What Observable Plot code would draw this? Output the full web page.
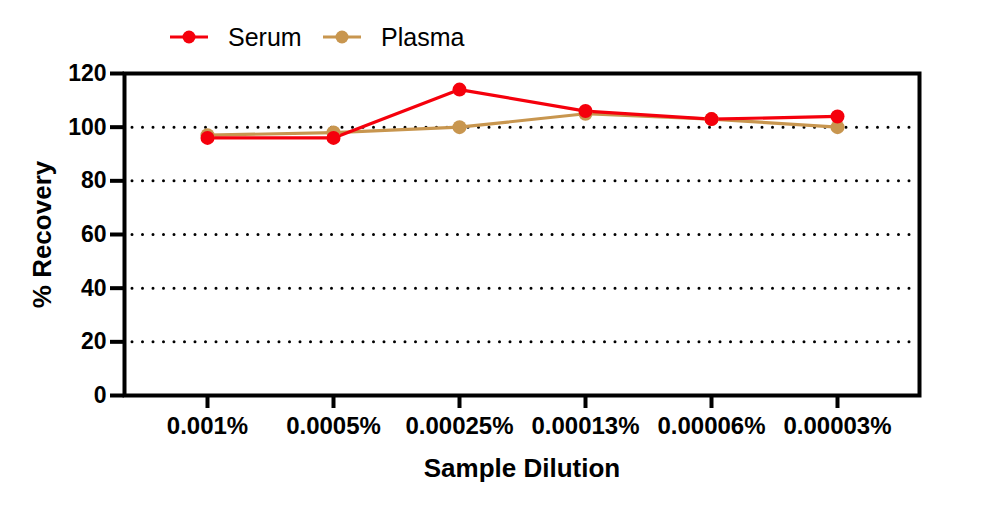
<!DOCTYPE html>
<html>
<head>
<meta charset="utf-8">
<script src="https://cdn.jsdelivr.net/npm/d3@7"></script>
<script src="https://cdn.jsdelivr.net/npm/@observablehq/plot@0.6"></script>
<style>
  html, body { margin: 0; padding: 0; background: #fff; }
  body { width: 996px; height: 507px; overflow: hidden; font-family: "Liberation Sans", Arial, sans-serif; }
  #legend { height: 60px; position: relative; }
  .item { position: absolute; top: 0; height: 74px; display: flex; align-items: center; font-size: 25px; color: #000; }
  .item svg { margin-right: 20px; }
  g[aria-label="x-axis label"] text, g[aria-label="y-axis label"] text { font-size: 26px; font-weight: bold; }
</style>
</head>
<body>
<div id="legend"></div>
<div id="chart"></div>
<script>
const dilutions = ["0.001%", "0.0005%", "0.00025%", "0.00013%", "0.00006%", "0.00003%"];
const serum = [96, 96, 114, 106, 103, 104];
const plasma = [97, 98, 100, 105, 103, 100];
const seriesNames = ["Serum", "Plasma"];
const seriesColors = ["#f5000c", "#c8964f"];
const yTicks = [0, 20, 40, 60, 80, 100, 120];
const gridValues = [20, 40, 60, 80, 100];

const rows = [];
dilutions.forEach((d, i) => {
  rows.push({dilution: d, value: plasma[i], series: "Plasma"});
});
dilutions.forEach((d, i) => {
  rows.push({dilution: d, value: serum[i], series: "Serum"});
});

// Legend
const legend = document.getElementById("legend");
const legendLeft = [170, 323];
seriesNames.forEach((name, i) => {
  const div = document.createElement("div");
  div.className = "item";
  div.style.left = legendLeft[i] + "px";
  div.innerHTML = `<svg width="38" height="16"><line x1="0" y1="8" x2="38" y2="8" stroke="${seriesColors[i]}" stroke-width="3"/><circle cx="19" cy="8" r="6.5" fill="${seriesColors[i]}"/></svg>${name}`;
  legend.appendChild(div);
});

const plot = Plot.plot({
  width: 996,
  height: 447,
  marginLeft: 124,
  marginRight: 77,
  marginTop: 13,
  marginBottom: 112,
  style: {fontFamily: "'Liberation Sans', Arial, sans-serif", color: "#000", background: "#fff"},
  x: {type: "point", domain: dilutions, padding: 0.645},
  y: {domain: [0, 120]},
  color: {domain: seriesNames, range: seriesColors},
  marks: [
    Plot.ruleY(gridValues, {stroke: "#000", strokeWidth: 3, strokeDasharray: "0 10.5", strokeLinecap: "round", insetLeft: 8, insetRight: 4}),
    Plot.frame({stroke: "#000", strokeWidth: 4}),
    Plot.axisY({ticks: yTicks, tickSize: 14, tickPadding: 4, strokeWidth: 4, fontSize: 23, fontWeight: "bold",
      label: "% Recovery", labelAnchor: "center", labelArrow: "none", labelOffset: 92}),
    Plot.axisX({tickSize: 13, tickPadding: 8, strokeWidth: 4, fontSize: 24, fontWeight: "bold",
      label: "Sample Dilution", labelAnchor: "center", labelArrow: "none", labelOffset: 81}),
    Plot.line(rows, {x: "dilution", y: "value", z: "series", stroke: "series", strokeWidth: 3.2}),
    Plot.dot(rows, {x: "dilution", y: "value", fill: "series", r: 7})
  ]
});
document.getElementById("chart").appendChild(plot);
</script>
</body>
</html>
